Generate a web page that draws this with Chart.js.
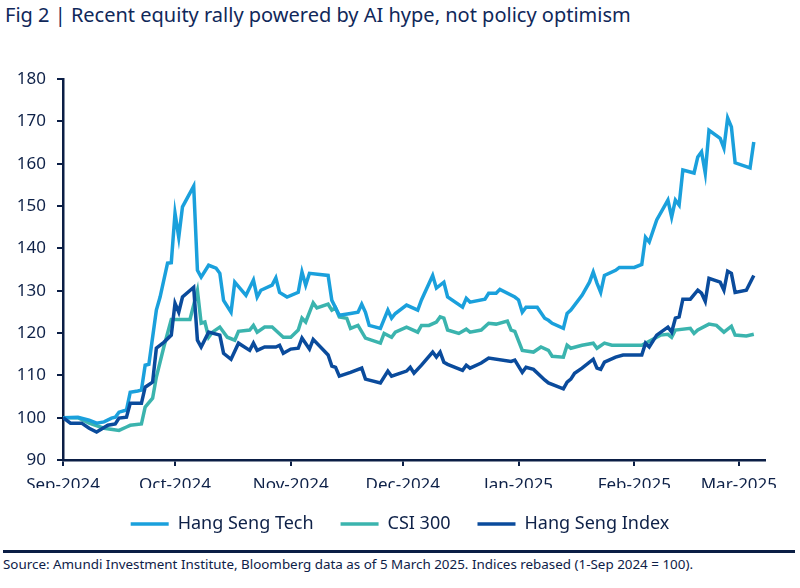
<!DOCTYPE html>
<html>
<head>
<meta charset="utf-8">
<script src="https://cdn.jsdelivr.net/npm/chart.js@4.4.1/dist/chart.umd.min.js"></script>
<style>
  body { margin: 0; background: #fff; font-family: "Noto Sans", sans-serif; color: #0e2148; }
  #wrap { position: relative; width: 800px; height: 588px; overflow: hidden; }
  #title { position: absolute; left: 5px; top: 1px; font-size: 20px; white-space: nowrap; color: #10285a; }
  #box { position: absolute; left: 0; top: 36px; width: 800px; height: 507px; }
  #rule { position: absolute; left: 3px; width: 792px; top: 550px; height: 3px; background: #0b1e45; z-index: 2; }
  #source { position: absolute; left: 3px; top: 555px; font-size: 13.4px; white-space: nowrap; z-index: 2; }
</style>
</head>
<body>
<div id="wrap">
  <div id="title">Fig 2 | Recent equity rally powered by AI hype, not policy optimism</div>
  <div id="box"><canvas id="chart" width="800" height="507"></canvas></div>
  <div id="rule"></div>
  <div id="source">Source: Amundi Investment Institute, Bloomberg data as of 5 March 2025. Indices rebased (1-Sep 2024 = 100).</div>
</div>
<script>
// x values are days since 1-Sep-2024
const monthDays = [0, 30, 61, 91, 122, 153, 181];
const monthLabels = ["Sep-2024", "Oct-2024", "Nov-2024", "Dec-2024", "Jan-2025", "Feb-2025", "Mar-2025"];

// Hang Seng Tech
const techDays = [0, 4, 7, 9, 11, 13, 14, 15, 17, 18, 20, 21, 22, 23, 25, 26, 28, 29, 30, 31, 32, 35, 36, 37, 39, 41, 42, 43, 45, 46, 49, 51, 52, 53, 56, 57, 58, 60, 63, 64, 65, 66, 71, 72, 74, 77, 79, 80, 81, 82, 85, 87, 88, 89, 92, 95, 96, 99, 100, 102, 103, 107, 108, 109, 113, 114, 116, 117, 121, 122, 123, 124, 127, 129, 130, 131, 134, 135, 136, 139, 141, 142, 143, 144, 145, 148, 149, 153, 155, 156, 157, 159, 162, 163, 164, 165, 166, 169, 170, 171, 172, 173, 176, 177, 178, 179, 180, 184, 185];
const techVals = [100, 100.1, 99.4, 98.7, 99.0, 99.9, 100.1, 101.3, 101.8, 106.0, 106.3, 106.5, 112.4, 112.6, 125.4, 128.5, 136.5, 136.6, 148.3, 142.6, 149.8, 154.7, 134.8, 133.2, 136.0, 135.3, 134.1, 127.7, 124.9, 132.0, 128.9, 132.5, 128.5, 130.1, 131.3, 133.0, 129.6, 128.5, 129.6, 134.4, 131.3, 134.1, 133.6, 127.7, 124.2, 124.6, 124.9, 126.8, 124.9, 121.8, 121.1, 125.4, 123.5, 124.6, 126.6, 125.4, 127.8, 133.6, 130.6, 132.0, 128.5, 126.1, 128.2, 127.3, 128.0, 129.4, 129.4, 130.3, 128.5, 127.8, 124.9, 126.1, 126.1, 123.5, 123.0, 122.3, 121.1, 124.6, 125.4, 128.9, 132.0, 134.4, 131.8, 129.6, 133.6, 134.8, 135.5, 135.5, 136.2, 142.6, 141.5, 146.7, 151.4, 147.4, 151.4, 150.2, 158.5, 157.8, 161.6, 162.8, 157.8, 167.9, 166.0, 163.7, 170.8, 168.7, 160.2, 159.0, 165.1];

// CSI 300
const csiDays = [0, 4, 7, 11, 15, 17, 18, 21, 22, 24, 25, 27, 29, 34, 36, 37, 38, 39, 40, 42, 44, 46, 47, 50, 51, 52, 54, 56, 59, 61, 63, 64, 65, 67, 68, 71, 72, 73, 74, 76, 77, 79, 81, 85, 86, 88, 89, 92, 95, 96, 98, 100, 101, 102, 103, 106, 108, 109, 112, 114, 116, 119, 120, 121, 123, 126, 128, 130, 131, 134, 135, 136, 139, 142, 143, 145, 147, 155, 160, 162, 163, 164, 168, 169, 170, 173, 175, 177, 179, 180, 183, 185];
const csiVals = [100, 100, 98.7, 97.5, 97.0, 97.8, 98.2, 98.5, 102.5, 104.6, 109.6, 116.7, 123.2, 123.2, 130.0, 122.3, 122.6, 119.0, 120.2, 121.4, 119.0, 118.3, 120.4, 120.7, 121.8, 120.2, 121.4, 121.4, 119.0, 119.0, 120.7, 123.5, 122.6, 127.1, 125.9, 126.8, 125.4, 125.9, 123.8, 123.5, 121.1, 121.8, 118.8, 117.6, 119.9, 119.0, 120.2, 121.4, 120.2, 121.8, 121.8, 122.6, 123.8, 123.5, 120.7, 119.9, 120.9, 120.2, 120.7, 122.3, 122.1, 122.8, 120.7, 120.4, 115.9, 115.5, 116.7, 115.9, 114.5, 114.3, 117.1, 116.4, 117.1, 117.6, 116.4, 117.6, 117.1, 117.1, 119.5, 119.7, 119.0, 120.7, 121.1, 119.9, 120.7, 122.1, 121.8, 120.2, 121.6, 119.5, 119.3, 119.7];

// Hang Seng Index
const hsiDays = [0, 2, 5, 7, 9, 12, 14, 15, 17, 18, 21, 22, 24, 25, 27, 29, 30, 31, 32, 35, 36, 37, 39, 42, 43, 45, 47, 50, 51, 52, 54, 57, 58, 59, 61, 63, 64, 66, 67, 71, 72, 73, 74, 77, 80, 81, 85, 87, 88, 92, 93, 94, 96, 99, 100, 101, 102, 103, 107, 108, 109, 112, 114, 120, 121, 123, 124, 126, 129, 130, 134, 135, 136, 137, 139, 142, 143, 144, 145, 148, 150, 155, 156, 157, 159, 162, 163, 164, 165, 166, 168, 170, 171, 172, 173, 176, 177, 178, 179, 180, 183, 185];
const hsiVals = [100, 98.7, 98.7, 97.5, 96.6, 98.2, 98.5, 99.9, 100.1, 103.4, 103.4, 107.2, 108.4, 116.4, 117.8, 119.5, 127.0, 124.9, 128.5, 130.8, 118.3, 116.7, 120.2, 119.5, 115.2, 113.8, 117.6, 115.9, 117.6, 115.9, 116.7, 116.7, 117.1, 115.2, 116.2, 116.4, 118.8, 116.2, 118.5, 114.8, 112.2, 111.9, 109.8, 110.7, 111.7, 109.1, 108.2, 111.0, 109.8, 111.0, 111.9, 110.5, 112.4, 115.5, 114.3, 115.5, 113.1, 112.6, 111.2, 112.4, 111.7, 112.9, 114.1, 113.3, 113.6, 110.7, 111.9, 111.4, 108.9, 108.2, 106.8, 108.4, 109.1, 110.5, 111.7, 113.8, 111.7, 111.4, 113.1, 114.3, 114.8, 114.8, 117.6, 116.7, 119.5, 121.4, 120.2, 123.5, 123.8, 128.0, 128.0, 130.1, 129.4, 127.5, 132.9, 132.0, 130.1, 134.6, 134.1, 129.6, 130.1, 133.6];

const navy = "#0b1e45";
const textColor = "#0e2148";

function toPoints(days, vals) {
    return days.map((d, i) => ({ x: d, y: vals[i] }));
}

function makeLine(label, days, vals, color, order) {
    return {
        label: label,
        data: toPoints(days, vals),
        borderColor: color,
        backgroundColor: color,
        borderWidth: 3.5,
        pointRadius: 0,
        tension: 0,
        order: order,
    };
}

new Chart(document.getElementById("chart").getContext("2d"), {
    type: "line",
    data: {
        datasets: [
            makeLine("Hang Seng Tech", techDays, techVals, "#1aa0dc", 1),
            makeLine("CSI 300", csiDays, csiVals, "#3bb4ae", 2),
            makeLine("Hang Seng Index", hsiDays, hsiVals, "#0a4b9c", 0),
        ],
    },
    options: {
        responsive: false,
        animation: false,
        devicePixelRatio: 1,
        layout: { padding: { top: 43, right: 0, left: 0, bottom: 0 } },
        scales: {
            x: {
                type: "linear",
                min: 0,
                max: 188,
                afterBuildTicks: (s) => { s.ticks = monthDays.map(v => ({ value: v })); },
                afterFit: (s) => { s.height = 28; },
                ticks: {
                    callback: (v) => monthLabels[monthDays.indexOf(v)],
                    font: { family: "Noto Sans", size: 17 },
                    color: textColor,
                    padding: 9,
                    maxRotation: 0,
                    autoSkip: false,
                },
                grid: { drawOnChartArea: false, tickLength: 6, color: navy, lineWidth: 2 },
                border: { color: navy, width: 2.5 },
            },
            y: {
                min: 90,
                max: 180,
                afterFit: (s) => { s.width = 63; },
                ticks: {
                    stepSize: 10,
                    font: { family: "Noto Sans", size: 17 },
                    color: textColor,
                    padding: 11,
                },
                grid: { drawOnChartArea: false, tickLength: 6, color: navy, lineWidth: 2 },
                border: { color: navy, width: 2.5 },
            },
            // empty right-hand axis that only reserves the gap after the x axis
            spacer: {
                position: "right",
                display: true,
                afterFit: (s) => { s.width = 35; },
                ticks: { display: false },
                grid: { display: false },
                border: { display: false },
            },
        },
        plugins: {
            tooltip: { enabled: false },
            legend: {
                position: "bottom",
                labels: {
                    usePointStyle: true,
                    pointStyle: "line",
                    pointStyleWidth: 38,
                    padding: 27,
                    color: textColor,
                    font: { family: "Noto Sans", size: 18 },
                    sort: (a, b) => a.datasetIndex - b.datasetIndex,
                },
            },
        },
    },
});
</script>
</body>
</html>
